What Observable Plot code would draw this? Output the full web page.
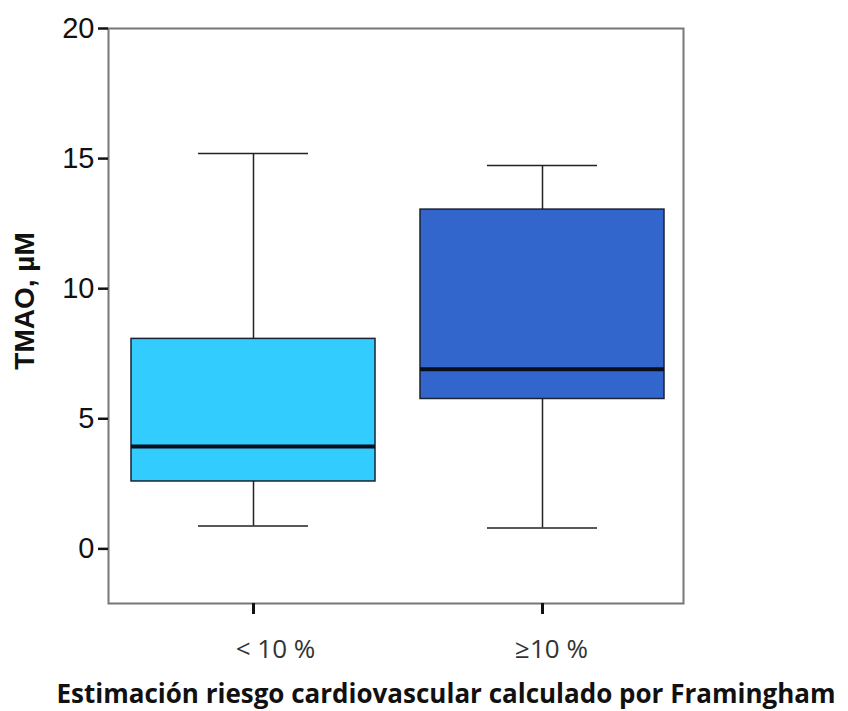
<!DOCTYPE html>
<html><head><meta charset="utf-8">
<script src="https://cdn.jsdelivr.net/npm/d3@7"></script>
<script src="https://cdn.jsdelivr.net/npm/@observablehq/plot@0.6"></script>
<style>body{margin:0;background:#fff}</style>
</head><body><div id="chart"></div>
<script>
const groups = ["< 10 %", "≥10 %"];
const whiskerLow = [0.88, 0.80];
const q1 = [2.59, 5.76];
const median = [3.93, 6.90];
const q3 = [8.07, 13.04];
const whiskerHigh = [15.2, 14.73];
const boxColors = ["#33ccff", "#3366cc"];
const yTicks = [0, 5, 10, 15, 20];
const yLabel = "TMAO, µM";
const xTitle = "Estimación riesgo cardiovascular calculado por Framingham";

const stats = groups.map((g, i) => ({
  group: g, low: whiskerLow[i], q1: q1[i], median: median[i],
  q3: q3[i], high: whiskerHigh[i], color: boxColors[i]
}));

const chart = Plot.plot({
  width: 848,
  height: 711,
  marginLeft: 108,
  marginRight: 165,
  marginTop: 28,
  marginBottom: 108,
  style: {fontFamily: "'Liberation Sans', Arial, sans-serif", background: "#fff"},
  x: {domain: groups, paddingInner: 0.155, paddingOuter: 0.07, align: 0.55, axis: null},
  y: {domain: [-2.1, 20], axis: null},
  marks: [
    Plot.ruleX(stats, {x: "group", y1: "low", y2: "high", stroke: "#222", strokeWidth: 1.5}),
    Plot.tickY(stats, {x: "group", y: "low", stroke: "#222", strokeWidth: 1.5, insetLeft: 67, insetRight: 67}),
    Plot.tickY(stats, {x: "group", y: "high", stroke: "#222", strokeWidth: 1.5, insetLeft: 67, insetRight: 67}),
    Plot.barY(stats, {x: "group", y1: "q1", y2: "q3", fill: "color", stroke: "#1a2233", strokeWidth: 1.5}),
    Plot.tickY(stats, {x: "group", y: "median", stroke: "#0a0f1e", strokeWidth: 4}),
    Plot.frame({stroke: "#777", strokeWidth: 2}),
    Plot.axisY(yTicks, {anchor: "left", tickSize: 10, tickPadding: 4, fontSize: 29, color: "#111", strokeWidth: 2.5, label: null}),
    Plot.axisX({anchor: "bottom", tickSize: 11, strokeWidth: 3, color: "#111", tickFormat: () => "", label: null}),
    Plot.text([stats[0]], {x: "group", text: "group", frameAnchor: "bottom", lineAnchor: "top", dy: 36, dx: 22,
      fontFamily: "'Open Sans', sans-serif", fontSize: 26, fill: "#333"}),
    Plot.text([stats[1]], {x: "group", text: "group", frameAnchor: "bottom", lineAnchor: "top", dy: 36, dx: 9,
      fontFamily: "'Open Sans', sans-serif", fontSize: 26, fill: "#333"}),
    Plot.text([yLabel], {frameAnchor: "left", textAnchor: "middle", rotate: -90, dx: -83, dy: -15, lineAnchor: "middle",
      fontFamily: "'Liberation Sans', Arial, sans-serif", fontWeight: "bold", fontSize: 28, fill: "#111"}),
    Plot.text([xTitle], {frameAnchor: "bottom", dx: 50, dy: 91, lineAnchor: "middle",
      fontFamily: "'Open Sans', sans-serif", fontWeight: "bold", fontSize: 26, fill: "#111"})
  ]
});
document.getElementById("chart").appendChild(chart);
</script>
</body></html>
